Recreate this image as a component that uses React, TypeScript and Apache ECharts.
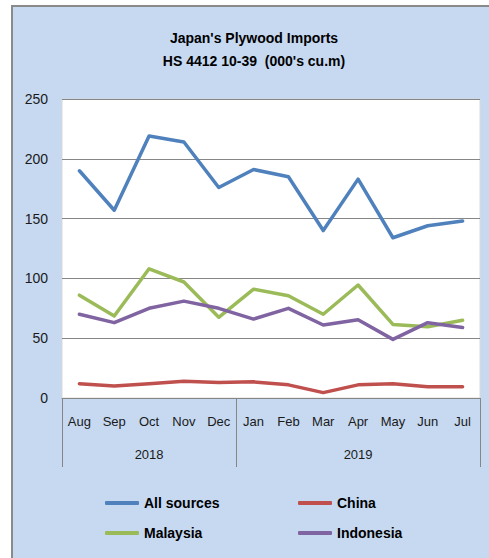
import React, { useEffect, useRef } from "react";
import * as echarts from "echarts";

const months = ["Aug", "Sep", "Oct", "Nov", "Dec", "Jan", "Feb", "Mar", "Apr", "May", "Jun", "Jul"];
const years = ["2018", "2019"];
const yearSpans = [5, 7];
const allSources = [190, 157, 219, 214, 176, 191, 185, 140, 183, 134, 144, 148];
const china = [12, 10, 12, 14, 13, 13.5, 11, 4.5, 11, 12, 9.5, 9.5];
const malaysia = [86, 68.5, 108, 97, 67.5, 91, 85.5, 70, 94.5, 61.5, 59.5, 65];
const indonesia = [70, 63, 75, 81, 75, 66, 75, 61, 65.5, 49, 63, 59];
const yTicks = { min: 0, max: 250, interval: 50 };

const FONT = "'Liberation Sans', Arial, sans-serif";

export default function App() {
  const ref = useRef<HTMLDivElement>(null);
  useEffect(() => {
    if (!ref.current) return;
    const chart = echarts.init(ref.current, undefined, { renderer: "svg" });
    const yearCenters: number[] = [];
    let acc = 0;
    yearSpans.forEach((s) => {
      yearCenters.push(acc + s / 2);
      acc += s;
    });
    const boundaryIdx = [0, yearSpans[0]];
    const mk = (name: string, data: number[], color: string) => ({
      name,
      type: "line",
      data,
      symbol: "none",
      xAxisIndex: 0,
      lineStyle: { width: 3.5, color, cap: "round", join: "round" },
      itemStyle: { color },
    });
    const legendText = { fontFamily: FONT, fontSize: 14, fontWeight: "bold", color: "#000", lineHeight: 16 };
    chart.setOption({
      animation: false,
      backgroundColor: "#ffffff",
      graphic: [
        {
          type: "rect",
          z: -10,
          shape: { x: 12, y: 6, width: 500, height: 580 },
          style: { fill: "#C6D9F1", stroke: "#8a8a8a", lineWidth: 2 },
        },
      ],
      title: {
        text: "Japan's Plywood Imports\nHS 4412 10-39  (000's cu.m)",
        left: 254,
        top: 26,
        textAlign: "center",
        padding: 0,
        textStyle: { fontFamily: FONT, fontSize: 14, fontWeight: "bold", color: "#000", lineHeight: 23 },
      },
      grid: {
        left: 62,
        top: 99,
        right: 9,
        bottom: 160,
        show: true,
        backgroundColor: "#ffffff",
        borderColor: "#d9d9d9",
        borderWidth: 1,
      },
      legend: [
        {
          data: ["All sources", "Malaysia"],
          orient: "vertical",
          left: 105,
          top: 495,
          padding: 0,
          itemGap: 14,
          itemWidth: 34,
          itemHeight: 4,
          icon: "roundRect",
          textStyle: legendText,
        },
        {
          data: ["China", "Indonesia"],
          orient: "vertical",
          left: 298,
          top: 495,
          padding: 0,
          itemGap: 14,
          itemWidth: 34,
          itemHeight: 4,
          icon: "roundRect",
          textStyle: legendText,
        },
      ],
      xAxis: [
        {
          type: "category",
          data: months,
          boundaryGap: true,
          axisLine: { show: true, lineStyle: { color: "#868686", width: 1 } },
          axisTick: {
            show: true,
            length: 69,
            interval: (i: number) => boundaryIdx.includes(i),
            lineStyle: { color: "#868686", width: 1 },
          },
          axisLabel: { interval: 0, margin: 17, fontFamily: FONT, fontSize: 13, color: "#1a1a1a" },
        },
        {
          type: "value",
          min: 0,
          max: months.length,
          position: "bottom",
          axisLine: { show: false },
          axisTick: { show: false },
          splitLine: { show: false },
          axisLabel: {
            customValues: yearCenters,
            margin: 50,
            fontFamily: FONT,
            fontSize: 13,
            color: "#1a1a1a",
            formatter: (v: number) => years[yearCenters.indexOf(v)] ?? "",
          },
        },
      ],
      yAxis: {
        type: "value",
        min: yTicks.min,
        max: yTicks.max,
        interval: yTicks.interval,
        axisLine: { show: false },
        axisTick: { show: false },
        splitLine: { lineStyle: { color: "#868686", width: 1 } },
        axisLabel: { margin: 14, fontFamily: FONT, fontSize: 14, color: "#1a1a1a" },
      },
      series: [
        mk("All sources", allSources, "#4F81BD"),
        mk("China", china, "#C0504D"),
        mk("Malaysia", malaysia, "#9BBB59"),
        mk("Indonesia", indonesia, "#8064A2"),
      ],
    });
    return () => chart.dispose();
  }, []);
  return (
    <div
      ref={ref}
      style={{ position: "fixed", left: 0, top: 0, width: 489, height: 558 }}
    />
  );
}
